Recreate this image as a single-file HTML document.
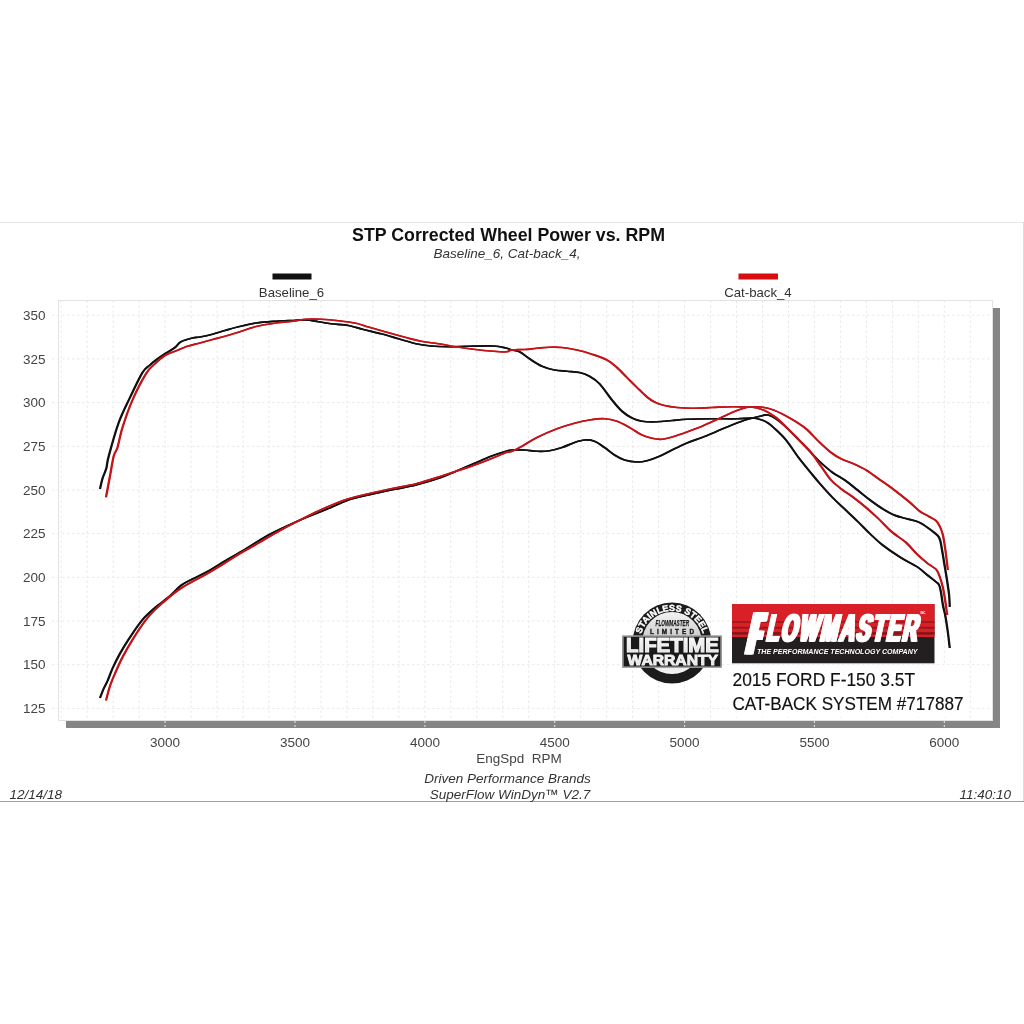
<!DOCTYPE html>
<html><head><meta charset="utf-8"><title>STP Corrected Wheel Power vs. RPM</title>
<style>
html,body{margin:0;padding:0;background:#fff;}
body{width:1024px;height:1024px;overflow:hidden;}
svg{display:block;font-family:"Liberation Sans",sans-serif;}
.ax text{font-size:13.5px;fill:#444;}
.it{font-style:italic;font-size:13.5px;fill:#333;}
</style></head><body>
<svg width="1024" height="1024" viewBox="0 0 1024 1024">
<rect width="1024" height="1024" fill="#fff"/>
<!-- outer frame -->
<line x1="0" y1="222.5" x2="1024" y2="222.5" stroke="#e6e6e6" stroke-width="1"/>
<line x1="1023.5" y1="222" x2="1023.5" y2="801" stroke="#dcdcdc" stroke-width="1"/>
<line x1="0" y1="801.5" x2="1024" y2="801.5" stroke="#a0a0a0" stroke-width="1"/>
<!-- shadow -->
<rect x="66" y="721" width="934" height="7" fill="#858585"/>
<rect x="993" y="308" width="7" height="420" fill="#858585"/>
<!-- plot -->
<rect x="58.5" y="300.5" width="934" height="420" fill="#fff" stroke="#e2e2e2" stroke-width="1"/>
<g stroke="#e9e9e9" stroke-width="1" stroke-dasharray="2.5 2.5" fill="none"><line x1="61.2" y1="300.5" x2="61.2" y2="720.5"/><line x1="87.2" y1="300.5" x2="87.2" y2="720.5"/><line x1="113.2" y1="300.5" x2="113.2" y2="720.5"/><line x1="139.2" y1="300.5" x2="139.2" y2="720.5"/><line x1="165.1" y1="300.5" x2="165.1" y2="720.5"/><line x1="191.1" y1="300.5" x2="191.1" y2="720.5"/><line x1="217.1" y1="300.5" x2="217.1" y2="720.5"/><line x1="243.1" y1="300.5" x2="243.1" y2="720.5"/><line x1="269.0" y1="300.5" x2="269.0" y2="720.5"/><line x1="295.0" y1="300.5" x2="295.0" y2="720.5"/><line x1="321.0" y1="300.5" x2="321.0" y2="720.5"/><line x1="346.9" y1="300.5" x2="346.9" y2="720.5"/><line x1="372.9" y1="300.5" x2="372.9" y2="720.5"/><line x1="398.9" y1="300.5" x2="398.9" y2="720.5"/><line x1="424.9" y1="300.5" x2="424.9" y2="720.5"/><line x1="450.8" y1="300.5" x2="450.8" y2="720.5"/><line x1="476.8" y1="300.5" x2="476.8" y2="720.5"/><line x1="502.8" y1="300.5" x2="502.8" y2="720.5"/><line x1="528.7" y1="300.5" x2="528.7" y2="720.5"/><line x1="554.7" y1="300.5" x2="554.7" y2="720.5"/><line x1="580.7" y1="300.5" x2="580.7" y2="720.5"/><line x1="606.7" y1="300.5" x2="606.7" y2="720.5"/><line x1="632.6" y1="300.5" x2="632.6" y2="720.5"/><line x1="658.6" y1="300.5" x2="658.6" y2="720.5"/><line x1="684.6" y1="300.5" x2="684.6" y2="720.5"/><line x1="710.6" y1="300.5" x2="710.6" y2="720.5"/><line x1="736.5" y1="300.5" x2="736.5" y2="720.5"/><line x1="762.5" y1="300.5" x2="762.5" y2="720.5"/><line x1="788.5" y1="300.5" x2="788.5" y2="720.5"/><line x1="814.4" y1="300.5" x2="814.4" y2="720.5"/><line x1="840.4" y1="300.5" x2="840.4" y2="720.5"/><line x1="866.4" y1="300.5" x2="866.4" y2="720.5"/><line x1="892.4" y1="300.5" x2="892.4" y2="720.5"/><line x1="918.3" y1="300.5" x2="918.3" y2="720.5"/><line x1="944.3" y1="300.5" x2="944.3" y2="720.5"/><line x1="970.3" y1="300.5" x2="970.3" y2="720.5"/><line x1="52" y1="708.4" x2="992.5" y2="708.4"/><line x1="52" y1="664.7" x2="992.5" y2="664.7"/><line x1="52" y1="621.0" x2="992.5" y2="621.0"/><line x1="52" y1="577.3" x2="992.5" y2="577.3"/><line x1="52" y1="533.6" x2="992.5" y2="533.6"/><line x1="52" y1="490.0" x2="992.5" y2="490.0"/><line x1="52" y1="446.3" x2="992.5" y2="446.3"/><line x1="52" y1="402.6" x2="992.5" y2="402.6"/><line x1="52" y1="358.9" x2="992.5" y2="358.9"/><line x1="52" y1="315.2" x2="992.5" y2="315.2"/></g>
<g stroke="#e8e8e8" stroke-width="1" stroke-dasharray="2 2"><line x1="165.1" y1="721" x2="165.1" y2="728"/><line x1="295.0" y1="721" x2="295.0" y2="728"/><line x1="424.9" y1="721" x2="424.9" y2="728"/><line x1="554.7" y1="721" x2="554.7" y2="728"/><line x1="684.6" y1="721" x2="684.6" y2="728"/><line x1="814.4" y1="721" x2="814.4" y2="728"/><line x1="944.3" y1="721" x2="944.3" y2="728"/></g>
<!-- curves -->
<g fill="none" stroke-width="1.7" stroke-linejoin="round" stroke-linecap="butt">
<g transform="translate(-0.3 0)">
<path id="cB1" stroke="#111" d="M100.00 489.00C100.42 487.25 101.46 481.92 102.50 478.50C103.54 475.08 105.21 472.25 106.25 468.50C107.29 464.75 106.67 463.67 108.75 456.00C110.83 448.33 115.21 432.25 118.75 422.50C122.29 412.75 126.04 405.83 130.00 397.50C133.96 389.17 139.17 377.92 142.50 372.50C145.83 367.08 147.75 367.08 150.00 365.00C152.25 362.92 153.50 361.88 156.00 360.00C158.50 358.12 161.83 355.83 165.00 353.75C168.17 351.67 172.33 349.50 175.00 347.50C177.67 345.50 178.08 343.33 181.00 341.75C183.92 340.17 189.33 338.79 192.50 338.00C195.67 337.21 196.67 337.62 200.00 337.00C203.33 336.38 208.33 335.33 212.50 334.25C216.67 333.17 220.83 331.71 225.00 330.50C229.17 329.29 232.33 328.25 237.50 327.00C242.67 325.75 249.58 323.96 256.00 323.00C262.42 322.04 269.75 321.67 276.00 321.25C282.25 320.83 288.50 320.71 293.50 320.50C298.50 320.29 301.83 319.79 306.00 320.00C310.17 320.21 314.33 321.12 318.50 321.75C322.67 322.38 326.00 323.12 331.00 323.75C336.00 324.38 343.08 324.54 348.50 325.50C353.92 326.46 358.08 328.12 363.50 329.50C368.92 330.88 375.17 332.21 381.00 333.75C386.83 335.29 392.67 337.08 398.50 338.75C404.33 340.42 410.58 342.54 416.00 343.75C421.42 344.96 425.58 345.50 431.00 346.00C436.42 346.50 442.25 346.71 448.50 346.75C454.75 346.79 461.00 346.38 468.50 346.25C476.00 346.12 487.25 345.71 493.50 346.00C499.75 346.29 502.92 347.33 506.00 348.00C509.08 348.67 509.75 349.38 512.00 350.00C514.25 350.62 516.58 350.29 519.50 351.75C522.42 353.21 525.75 356.33 529.50 358.75C533.25 361.17 537.83 364.38 542.00 366.25C546.17 368.12 550.33 369.17 554.50 370.00C558.67 370.83 562.83 370.83 567.00 371.25C571.17 371.67 575.75 371.67 579.50 372.50C583.25 373.33 586.17 374.38 589.50 376.25C592.83 378.12 595.75 379.79 599.50 383.75C603.25 387.71 608.25 395.42 612.00 400.00C615.75 404.58 618.67 408.25 622.00 411.25C625.33 414.25 628.67 416.33 632.00 418.00C635.33 419.67 637.83 420.62 642.00 421.25C646.17 421.88 652.00 421.88 657.00 421.75C662.00 421.62 667.00 420.92 672.00 420.50C677.00 420.08 680.33 419.54 687.00 419.25C693.67 418.96 703.67 418.83 712.00 418.75C720.33 418.67 730.33 418.88 737.00 418.75C743.67 418.62 747.83 417.79 752.00 418.00C756.17 418.21 759.33 419.17 762.00 420.00C764.67 420.83 766.08 421.75 768.00 423.00C769.92 424.25 770.50 424.67 773.50 427.50C776.50 430.33 781.83 435.00 786.00 440.00C790.17 445.00 794.33 452.00 798.50 457.50C802.67 463.00 807.42 468.62 811.00 473.00C814.58 477.38 816.42 479.67 820.00 483.75C823.58 487.83 828.33 493.23 832.50 497.50C836.67 501.77 840.83 505.44 845.00 509.40C849.17 513.36 853.33 517.19 857.50 521.25C861.67 525.31 865.83 529.79 870.00 533.75C874.17 537.71 877.33 540.99 882.50 545.00C887.67 549.01 895.21 554.15 901.00 557.80C906.79 561.45 912.88 564.03 917.25 566.90C921.62 569.77 924.12 572.50 927.25 575.00C930.38 577.50 934.02 580.23 936.00 581.90C937.98 583.57 938.27 583.23 939.10 585.00C939.93 586.77 940.37 589.17 941.00 592.50C941.63 595.83 942.17 601.04 942.90 605.00C943.63 608.96 944.57 611.67 945.40 616.25C946.23 620.83 947.17 627.21 947.90 632.50C948.62 637.79 949.44 645.42 949.75 648.00"/>
<path id="cB2" stroke="#111" d="M100.00 698.00C100.62 696.42 102.50 691.33 103.75 688.50C105.00 685.67 106.04 684.33 107.50 681.00C108.96 677.67 110.42 673.08 112.50 668.50C114.58 663.92 117.08 658.71 120.00 653.50C122.92 648.29 126.25 642.88 130.00 637.25C133.75 631.62 138.33 624.67 142.50 619.75C146.67 614.83 150.42 611.71 155.00 607.75C159.58 603.79 165.62 599.75 170.00 596.00C174.38 592.25 177.50 588.08 181.25 585.25C185.00 582.42 188.12 581.29 192.50 579.00C196.88 576.71 202.08 574.50 207.50 571.50C212.92 568.50 219.58 564.21 225.00 561.00C230.42 557.79 234.83 555.33 240.00 552.25C245.17 549.17 251.25 545.38 256.00 542.50C260.75 539.62 264.33 537.29 268.50 535.00C272.67 532.71 274.75 531.67 281.00 528.75C287.25 525.83 298.50 520.71 306.00 517.50C313.50 514.29 318.92 512.42 326.00 509.50C333.08 506.58 341.42 502.42 348.50 500.00C355.58 497.58 361.00 496.75 368.50 495.00C376.00 493.25 385.58 491.17 393.50 489.50C401.42 487.83 408.08 487.00 416.00 485.00C423.92 483.00 434.33 479.79 441.00 477.50C447.67 475.21 450.58 473.54 456.00 471.25C461.42 468.96 467.67 466.25 473.50 463.75C479.33 461.25 485.58 458.33 491.00 456.25C496.42 454.17 502.50 452.29 506.00 451.25C509.50 450.21 508.92 450.21 512.00 450.00C515.08 449.79 520.33 449.79 524.50 450.00C528.67 450.21 532.83 451.12 537.00 451.25C541.17 451.38 545.33 451.38 549.50 450.75C553.67 450.12 557.83 448.88 562.00 447.50C566.17 446.12 570.75 443.75 574.50 442.50C578.25 441.25 581.17 440.21 584.50 440.00C587.83 439.79 591.17 440.00 594.50 441.25C597.83 442.50 601.17 445.21 604.50 447.50C607.83 449.79 611.17 452.92 614.50 455.00C617.83 457.08 620.75 458.83 624.50 460.00C628.25 461.17 633.25 461.88 637.00 462.00C640.75 462.12 643.25 461.71 647.00 460.75C650.75 459.79 655.33 458.04 659.50 456.25C663.67 454.46 667.42 452.21 672.00 450.00C676.58 447.79 682.00 445.08 687.00 443.00C692.00 440.92 697.00 439.46 702.00 437.50C707.00 435.54 712.00 433.33 717.00 431.25C722.00 429.17 727.00 426.96 732.00 425.00C737.00 423.04 742.00 421.04 747.00 419.50C752.00 417.96 758.50 416.50 762.00 415.75C765.50 415.00 765.67 414.50 768.00 415.00C770.33 415.50 773.00 416.75 776.00 418.75C779.00 420.75 782.25 423.54 786.00 427.00C789.75 430.46 794.33 435.25 798.50 439.50C802.67 443.75 807.67 449.00 811.00 452.50C814.33 456.00 814.92 457.17 818.50 460.50C822.08 463.83 828.08 469.20 832.50 472.50C836.92 475.80 840.83 477.38 845.00 480.30C849.17 483.22 853.33 486.72 857.50 490.00C861.67 493.28 865.83 496.88 870.00 500.00C874.17 503.12 878.33 506.18 882.50 508.75C886.67 511.32 890.83 513.71 895.00 515.40C899.17 517.09 903.33 517.68 907.50 518.90C911.67 520.12 915.83 520.64 920.00 522.70C924.17 524.76 929.32 528.78 932.50 531.25C935.68 533.72 937.58 534.79 939.10 537.50C940.62 540.21 940.77 543.33 941.60 547.50C942.43 551.67 943.27 557.50 944.10 562.50C944.93 567.50 945.77 572.08 946.60 577.50C947.43 582.92 948.58 590.10 949.10 595.00C949.62 599.90 949.64 604.92 949.75 606.90"/>
</g>
<g transform="translate(0.3 0)"><use href="#cB1"/><use href="#cB2"/></g>
<g transform="translate(-0.3 0)">
<path id="cR1" stroke="#c3141a" d="M106.00 497.25C106.67 493.71 108.71 482.88 110.00 476.00C111.29 469.12 112.50 460.75 113.75 456.00C115.00 451.25 116.04 452.25 117.50 447.50C118.96 442.75 120.00 435.42 122.50 427.50C125.00 419.58 128.58 408.96 132.50 400.00C136.42 391.04 142.25 379.79 146.00 373.75C149.75 367.71 151.83 366.79 155.00 363.75C158.17 360.71 161.67 357.58 165.00 355.50C168.33 353.42 171.25 352.79 175.00 351.25C178.75 349.71 183.33 347.62 187.50 346.25C191.67 344.88 195.83 344.12 200.00 343.00C204.17 341.88 208.33 340.62 212.50 339.50C216.67 338.38 220.83 337.42 225.00 336.25C229.17 335.08 232.33 334.12 237.50 332.50C242.67 330.88 249.58 328.08 256.00 326.50C262.42 324.92 269.75 323.88 276.00 323.00C282.25 322.12 288.50 321.88 293.50 321.25C298.50 320.62 301.42 319.58 306.00 319.25C310.58 318.92 315.58 319.00 321.00 319.25C326.42 319.50 332.67 320.08 338.50 320.75C344.33 321.42 351.00 322.21 356.00 323.25C361.00 324.29 363.50 325.54 368.50 327.00C373.50 328.46 379.75 330.25 386.00 332.00C392.25 333.75 400.17 335.96 406.00 337.50C411.83 339.04 415.58 340.21 421.00 341.25C426.42 342.29 432.67 342.83 438.50 343.75C444.33 344.67 450.17 345.83 456.00 346.75C461.83 347.67 467.25 348.50 473.50 349.25C479.75 350.00 488.08 350.83 493.50 351.25C498.92 351.67 502.92 351.96 506.00 351.75C509.08 351.54 508.92 350.38 512.00 350.00C515.08 349.62 520.33 349.79 524.50 349.50C528.67 349.21 532.83 348.62 537.00 348.25C541.17 347.88 545.33 347.38 549.50 347.25C553.67 347.12 557.42 347.04 562.00 347.50C566.58 347.96 572.00 348.88 577.00 350.00C582.00 351.12 587.00 352.58 592.00 354.25C597.00 355.92 602.83 357.79 607.00 360.00C611.17 362.21 613.67 364.58 617.00 367.50C620.33 370.42 623.67 374.17 627.00 377.50C630.33 380.83 633.67 384.25 637.00 387.50C640.33 390.75 644.08 394.58 647.00 397.00C649.92 399.42 651.58 400.58 654.50 402.00C657.42 403.42 660.75 404.58 664.50 405.50C668.25 406.42 672.42 407.04 677.00 407.50C681.58 407.96 686.17 408.25 692.00 408.25C697.83 408.25 705.33 407.75 712.00 407.50C718.67 407.25 726.17 406.83 732.00 406.75C737.83 406.67 742.17 406.96 747.00 407.00C751.83 407.04 756.58 406.50 761.00 407.00C765.42 407.50 768.50 408.04 773.50 410.00C778.50 411.96 785.58 415.62 791.00 418.75C796.42 421.88 801.42 425.00 806.00 428.75C810.58 432.50 814.33 437.29 818.50 441.25C822.67 445.21 827.25 449.58 831.00 452.50C834.75 455.42 837.25 456.88 841.00 458.75C844.75 460.62 849.33 461.88 853.50 463.75C857.67 465.62 861.83 467.50 866.00 470.00C870.17 472.50 874.33 475.83 878.50 478.75C882.67 481.67 886.00 483.75 891.00 487.50C896.00 491.25 903.71 497.29 908.50 501.25C913.29 505.21 916.42 508.75 919.75 511.25C923.08 513.75 925.79 514.69 928.50 516.25C931.21 517.81 934.12 518.93 936.00 520.60C937.88 522.27 938.60 523.85 939.75 526.25C940.90 528.65 941.96 531.04 942.90 535.00C943.84 538.96 944.67 545.00 945.40 550.00C946.12 555.00 946.83 561.67 947.25 565.00C947.67 568.33 947.79 569.17 947.90 570.00"/>
<path id="cR2" stroke="#c3141a" d="M106.00 700.50C106.67 698.08 108.50 690.50 110.00 686.00C111.50 681.50 112.92 678.29 115.00 673.50C117.08 668.71 119.58 662.88 122.50 657.25C125.42 651.62 128.75 645.79 132.50 639.75C136.25 633.71 141.25 626.00 145.00 621.00C148.75 616.00 150.83 613.83 155.00 609.75C159.17 605.67 165.42 600.25 170.00 596.50C174.58 592.75 178.33 589.96 182.50 587.25C186.67 584.54 190.83 582.54 195.00 580.25C199.17 577.96 202.50 576.38 207.50 573.50C212.50 570.62 219.58 566.33 225.00 563.00C230.42 559.67 234.83 556.58 240.00 553.50C245.17 550.42 249.17 548.42 256.00 544.50C262.83 540.58 272.67 534.58 281.00 530.00C289.33 525.42 298.50 520.75 306.00 517.00C313.50 513.25 318.92 510.54 326.00 507.50C333.08 504.46 341.42 501.04 348.50 498.75C355.58 496.46 361.00 495.50 368.50 493.75C376.00 492.00 385.58 489.92 393.50 488.25C401.42 486.58 408.08 485.75 416.00 483.75C423.92 481.75 434.33 478.33 441.00 476.25C447.67 474.17 450.58 473.04 456.00 471.25C461.42 469.46 467.67 467.58 473.50 465.50C479.33 463.42 485.58 460.92 491.00 458.75C496.42 456.58 502.50 453.75 506.00 452.50C509.50 451.25 509.33 452.29 512.00 451.25C514.67 450.21 517.83 448.54 522.00 446.25C526.17 443.96 531.17 440.42 537.00 437.50C542.83 434.58 550.75 431.12 557.00 428.75C563.25 426.38 569.08 424.71 574.50 423.25C579.92 421.79 584.50 420.75 589.50 420.00C594.50 419.25 599.92 418.54 604.50 418.75C609.08 418.96 612.83 419.79 617.00 421.25C621.17 422.71 625.33 425.21 629.50 427.50C633.67 429.79 638.25 433.21 642.00 435.00C645.75 436.79 648.67 437.54 652.00 438.25C655.33 438.96 658.25 439.58 662.00 439.25C665.75 438.92 670.33 437.46 674.50 436.25C678.67 435.04 682.42 433.67 687.00 432.00C691.58 430.33 697.00 428.33 702.00 426.25C707.00 424.17 712.00 421.79 717.00 419.50C722.00 417.21 727.83 414.29 732.00 412.50C736.17 410.71 738.83 409.67 742.00 408.75C745.17 407.83 747.42 406.79 751.00 407.00C754.58 407.21 759.33 408.25 763.50 410.00C767.67 411.75 772.25 414.67 776.00 417.50C779.75 420.33 782.25 423.33 786.00 427.00C789.75 430.67 794.33 435.25 798.50 439.50C802.67 443.75 807.25 448.04 811.00 452.50C814.75 456.96 817.67 461.67 821.00 466.25C824.33 470.83 827.67 476.25 831.00 480.00C834.33 483.75 837.25 485.83 841.00 488.75C844.75 491.67 849.33 494.38 853.50 497.50C857.67 500.62 861.83 503.96 866.00 507.50C870.17 511.04 874.33 514.79 878.50 518.75C882.67 522.71 886.42 527.29 891.00 531.25C895.58 535.21 901.62 538.64 906.00 542.50C910.38 546.36 913.71 550.97 917.25 554.40C920.79 557.83 924.02 560.50 927.25 563.10C930.48 565.70 934.41 567.39 936.60 570.00C938.79 572.61 939.35 575.83 940.40 578.75C941.45 581.67 942.17 584.38 942.90 587.50C943.62 590.62 944.02 592.92 944.75 597.50C945.48 602.08 946.83 612.08 947.25 615.00"/>
</g>
<g transform="translate(0.3 0)"><use href="#cR1"/><use href="#cR2"/></g>
</g>
<!-- titles -->
<text x="508.5" y="240.5" text-anchor="middle" font-size="17.8" font-weight="bold" fill="#111">STP Corrected Wheel Power vs. RPM</text>
<text x="507" y="258" text-anchor="middle" class="it">Baseline_6, Cat-back_4,</text>
<!-- legend -->
<rect x="272.5" y="273.5" width="39" height="6" fill="#111"/>
<text x="291.5" y="296.6" text-anchor="middle" font-size="13.2" fill="#333">Baseline_6</text>
<rect x="738.5" y="273.5" width="39.5" height="6" fill="#d80d10"/>
<text x="758" y="296.6" text-anchor="middle" font-size="13.2" fill="#333">Cat-back_4</text>
<g class="ax"><text x="45.5" y="713.0" text-anchor="end">125</text><text x="45.5" y="669.3" text-anchor="end">150</text><text x="45.5" y="625.6" text-anchor="end">175</text><text x="45.5" y="581.9" text-anchor="end">200</text><text x="45.5" y="538.2" text-anchor="end">225</text><text x="45.5" y="494.6" text-anchor="end">250</text><text x="45.5" y="450.9" text-anchor="end">275</text><text x="45.5" y="407.2" text-anchor="end">300</text><text x="45.5" y="363.5" text-anchor="end">325</text><text x="45.5" y="319.8" text-anchor="end">350</text><text x="165.1" y="747.3" text-anchor="middle">3000</text><text x="295.0" y="747.3" text-anchor="middle">3500</text><text x="424.9" y="747.3" text-anchor="middle">4000</text><text x="554.7" y="747.3" text-anchor="middle">4500</text><text x="684.6" y="747.3" text-anchor="middle">5000</text><text x="814.4" y="747.3" text-anchor="middle">5500</text><text x="944.3" y="747.3" text-anchor="middle">6000</text>
<text x="519" y="762.8" text-anchor="middle" xml:space="preserve">EngSpd  RPM</text></g>
<text x="507.5" y="783.3" text-anchor="middle" class="it">Driven Performance Brands</text>
<text x="510" y="798.6" text-anchor="middle" class="it">SuperFlow WinDyn™ V2.7</text>
<text x="9.5" y="798.8" class="it">12/14/18</text>
<text x="1011" y="798.8" text-anchor="end" class="it">11:40:10</text>
<!-- white backing for caption text -->
<rect x="729" y="665" width="240" height="52" fill="#fff"/>
<!-- Flowmaster logo -->
<g id="fm">
<rect x="732" y="604" width="202.5" height="59.3" fill="#231f20"/>
<rect x="732" y="604" width="202.5" height="33" fill="#da2027"/>
<rect x="732" y="621.2" width="202.5" height="1.6" fill="#9a191d"/>
<rect x="732" y="626.8" width="202.5" height="1.8" fill="#8e181c"/>
<rect x="732" y="632.2" width="202.5" height="2.4" fill="#7a1619"/>
<g font-family="'Liberation Sans',sans-serif" font-weight="bold" fill="#fff" stroke="#fff" stroke-linejoin="miter">
<text id="wmF" transform="translate(743.6 653.2) skewX(-12.5) scale(0.3 1)" font-size="57" stroke-width="2.2" vector-effect="non-scaling-stroke">F</text><text id="wmL" transform="translate(764.4 640.5) skewX(-12.5) scale(0.54 1)" font-size="38" stroke-width="1.3" vector-effect="non-scaling-stroke" textLength="279" lengthAdjust="spacing">LOWMASTER</text>
<use href="#wmF" x="1.6"/><use href="#wmF" x="3.2"/><use href="#wmF" x="4.8"/><use href="#wmF" x="6.2"/><use href="#wmL" x="1.1"/><use href="#wmL" x="2.2"/>
</g>
<text x="757" y="654.3" font-family="'Liberation Sans',sans-serif" font-weight="bold" font-style="italic" font-size="7.6" fill="#fff" textLength="160.5" lengthAdjust="spacingAndGlyphs">THE PERFORMANCE TECHNOLOGY COMPANY</text>
<text x="920.5" y="614" font-family="'Liberation Sans',sans-serif" font-weight="bold" font-size="2.8" fill="#fff">INC.</text>
</g>
<!-- caption -->
<g font-family="'Liberation Sans',sans-serif" font-size="17.6" fill="#111" stroke="#111" stroke-width="0.15">
<text x="732.5" y="686.3" textLength="182.5" lengthAdjust="spacingAndGlyphs">2015 FORD F-150 3.5T</text>
<text x="732.5" y="709.8" textLength="231" lengthAdjust="spacingAndGlyphs">CAT-BACK SYSTEM #717887</text>
</g>
<!-- Lifetime warranty badge -->
<g id="badge" font-family="'Liberation Sans',sans-serif">
<defs>
<linearGradient id="gsil" x1="0" y1="0" x2="0" y2="1"><stop offset="0" stop-color="#f2f2f2"/><stop offset="0.45" stop-color="#c9c9c9"/><stop offset="1" stop-color="#f4f4f4"/></linearGradient>
<linearGradient id="gtxt" x1="0" y1="0" x2="0" y2="1"><stop offset="0" stop-color="#ffffff"/><stop offset="1" stop-color="#d8d8d8"/></linearGradient>
<path id="arc" d="M 639.6 643.5 A 32.4 32.6 0 0 1 704.4 643.5"/>
</defs>
<ellipse cx="672" cy="643" rx="39.5" ry="40.5" fill="#1c1c1c"/>
<ellipse cx="672" cy="643" rx="30" ry="31" fill="url(#gsil)"/>
<text font-size="8.9" font-weight="bold" fill="#fff" stroke="#fff" stroke-width="0.45" letter-spacing="0.15"><textPath href="#arc" startOffset="50%" text-anchor="middle">STAINLESS STEEL</textPath></text>
<text x="672.3" y="625.6" text-anchor="middle" font-size="9" font-weight="bold" font-style="italic" fill="#1a1a1a" stroke="#1a1a1a" stroke-width="0.25" textLength="33.5" lengthAdjust="spacingAndGlyphs">FLOWMASTER</text>
<text x="672" y="633.9" text-anchor="middle" font-size="6.4" font-weight="bold" fill="#1a1a1a" stroke="#1a1a1a" stroke-width="0.35" textLength="44" lengthAdjust="spacing">LIMITED</text>
<rect x="622" y="635.3" width="100" height="32.6" fill="#9b9b9b"/>
<rect x="623.7" y="636.8" width="96.6" height="29.6" fill="#1a1a1a"/>
<g font-weight="bold" fill="url(#gtxt)" stroke="#f4f4f4" stroke-linejoin="miter">
<text x="626" y="652.2" font-size="19.6" stroke-width="1.1" textLength="93" lengthAdjust="spacingAndGlyphs">LIFETIME</text>
<text x="627.5" y="665.4" font-size="14.6" stroke-width="0.9" textLength="90.5" lengthAdjust="spacingAndGlyphs">WARRANTY</text>
</g>
</g>

</svg>
</body></html>
